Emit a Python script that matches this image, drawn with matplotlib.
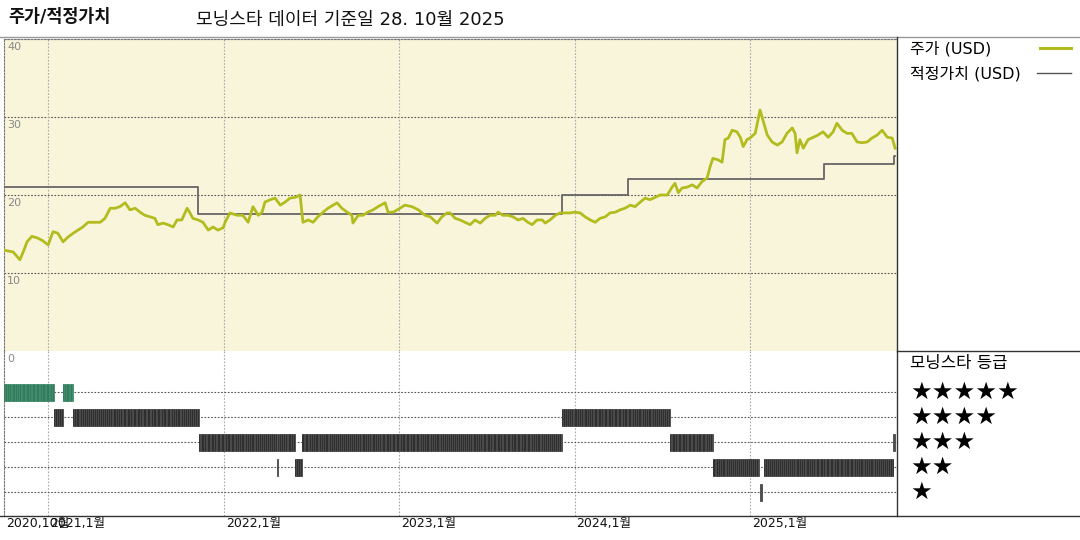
#!/usr/bin/env python3
# -*- coding: utf-8 -*-

"""
Price / fair value chart with star rating timeline (Morningstar style).
"""

import numpy as np
import pandas as pd
import matplotlib
matplotlib.use("Agg")
from matplotlib import pyplot as plt
from matplotlib.lines import Line2D
import matplotlib.dates as mdates

plt.rcParams['font.family'] = ['DejaVu Sans', 'Noto Sans CJK KR']

# DATA ########################################################################

START = pd.Timestamp("2020-10-01")
END = pd.Timestamp("2025-11-02")

# days since START
price_day = [2, 19, 33, 40, 48, 58, 69, 79, 92, 102, 112, 123, 133, 144, 154,
             164, 175, 189, 200, 210, 221, 231, 241, 252, 262, 273, 283, 293,
             304, 314, 320, 331, 341, 352, 360, 370, 381, 387, 393, 404, 414,
             425, 435, 445, 456, 460, 470, 485, 497, 508, 518, 529, 537, 543,
             554, 564, 575, 585, 595, 606, 616, 622, 633, 643, 653, 664, 674,
             685, 693, 703, 714, 724, 726, 737, 747, 757, 768, 778, 793, 799,
             810, 824, 834, 849, 862, 876, 887, 901, 911, 922, 928, 939, 949,
             959, 970, 980, 991, 1001, 1011, 1022, 1028, 1038, 1049, 1059,
             1070, 1080, 1090, 1099, 1109, 1120, 1126, 1136, 1147, 1157, 1167,
             1178, 1188, 1199, 1209, 1220, 1230, 1240, 1251, 1261, 1272, 1282,
             1292, 1303, 1313, 1324, 1334, 1344, 1355, 1365, 1380, 1390, 1396,
             1403, 1411, 1421, 1432, 1442, 1452, 1463, 1469, 1475, 1486, 1494,
             1500, 1507, 1515, 1525, 1532, 1538, 1546, 1552, 1563, 1573, 1579,
             1588, 1598, 1609, 1619, 1629, 1640, 1646, 1650, 1656, 1663, 1673,
             1684, 1694, 1704, 1715, 1725, 1733, 1744, 1754, 1764, 1775, 1785,
             1796, 1806, 1817, 1827, 1838, 1848, 1854]
price_usd = [12.9, 12.7, 11.7, 12.7, 14.0, 14.7, 14.5, 14.2, 13.6, 15.3, 15.1,
             14.0, 14.6, 15.1, 15.5, 15.9, 16.5, 16.5, 16.5, 17.0, 18.3, 18.3,
             18.5, 19.0, 18.1, 18.3, 17.8, 17.4, 17.2, 17.0, 16.2, 16.4, 16.2,
             15.9, 16.8, 16.8, 18.3, 17.7, 17.0, 16.8, 16.5, 15.5, 15.9, 15.5,
             15.8, 16.5, 17.7, 17.4, 17.4, 16.5, 18.5, 17.4, 17.8, 19.1, 19.4,
             19.6, 18.7, 19.1, 19.6, 19.7, 20.0, 16.5, 16.8, 16.5, 17.2, 17.8,
             18.3, 18.7, 19.0, 18.3, 17.8, 17.4, 16.4, 17.4, 17.4, 17.8, 18.1,
             18.5, 19.0, 17.8, 17.8, 18.3, 18.7, 18.5, 18.1, 17.4, 17.2, 16.4,
             17.2, 17.7, 17.7, 17.0, 16.8, 16.5, 16.2, 16.8, 16.4, 17.0, 17.4,
             17.4, 17.8, 17.4, 17.4, 17.2, 16.8, 17.0, 16.5, 16.2, 16.8, 16.8,
             16.4, 16.8, 17.4, 17.7, 17.7, 17.7, 17.8, 17.7, 17.2, 16.8, 16.5,
             17.0, 17.2, 17.7, 17.8, 18.1, 18.3, 18.7, 18.5, 19.1, 19.6, 19.4,
             19.7, 20.0, 20.0, 21.0, 21.5, 20.3, 20.9, 21.0, 21.3, 20.9, 21.7,
             22.2, 23.6, 24.7, 24.5, 24.2, 27.1, 27.3, 28.3, 28.1, 27.4, 26.2,
             27.1, 27.3, 27.9, 30.9, 29.6, 27.7, 26.8, 26.4, 26.8, 27.9, 28.6,
             27.9, 25.4, 27.1, 26.0, 27.1, 27.4, 27.7, 28.1, 27.4, 28.1, 29.2,
             28.3, 27.9, 27.9, 26.8, 26.7, 26.8, 27.3, 27.7, 28.3, 27.4, 27.3,
             26.0]

fair_day = [0, 404, 1161, 1299, 1706, 1851, 1854]
fair_usd = [21.0, 17.6, 20.0, 22.0, 24.0, 25.0, 25.0]

rating_from_day = [0, 104, 123, 144, 406, 567, 571, 606, 620, 1161, 1386,
                   1475, 1573, 1581, 1850]
rating_to_day = [104, 123, 144, 406, 567, 571, 606, 620, 1161, 1386, 1475,
                 1570, 1577, 1850, 1854]
rating_stars = [5, 4, 5, 4, 3, 2, 3, 2, 3, 4, 3, 2, 1, 2, 3]

tick_dates = ["2020-10-01", "2021-01-01", "2022-01-01", "2023-01-01",
              "2024-01-01", "2025-01-01"]
tick_labels = ["2020,10월", "2021,1월", "2022,1월", "2023,1월", "2024,1월",
               "2025,1월"]
price_ticks = [0, 10, 20, 30, 40]

# PLOT ########################################################################

W, H = 1080, 540
fig = plt.figure(figsize=(W / 100, H / 100), dpi=100)
fig.patch.set_facecolor("white")

def fx(px):
    return px / W

def fy(py):
    return 1 - py / H

left, right = 4, 897
ax1 = fig.add_axes([fx(left), fy(351), fx(right - left), fy(39) - fy(351)])
ax2 = fig.add_axes([fx(left), fy(516), fx(right - left), fy(351) - fy(516)],
                   sharex=ax1)
ax2.patch.set_visible(False)

dot = (0, (1.5, 1.5))

# price panel ##################

ax1.set_facecolor("#f9f5da")
price_dates = START + pd.to_timedelta(price_day, unit="D")
fair_dates = START + pd.to_timedelta(fair_day, unit="D")

for v in price_ticks[1:]:
    ax1.axhline(v, color="#555555", lw=0.8, linestyle=dot, zorder=1)
for d in tick_dates[1:]:
    ax1.axvline(pd.Timestamp(d), color="#aaaaaa", lw=0.8, linestyle=dot, zorder=1)
    ax2.axvline(pd.Timestamp(d), color="#aaaaaa", lw=0.8, linestyle=dot, zorder=1)

ax1.plot(fair_dates, fair_usd, drawstyle="steps-post", color="#666666",
         lw=1.3, zorder=3)
ax1.plot(price_dates, price_usd, color="#b3bc1f", lw=2.0, zorder=4)

ax1.set_ylim(0, 40)
ax1.set_xlim(START, END)
ax1.set_xticks([])
ax1.set_yticks([])
for side in ["top", "left"]:
    ax1.spines[side].set_linestyle(dot)
    ax1.spines[side].set_color("#777777")
    ax1.spines[side].set_linewidth(0.8)
ax1.spines["right"].set_visible(False)
ax1.spines["bottom"].set_visible(False)

for v in price_ticks:
    ax1.annotate(str(v), xy=(0, v), xycoords=("axes fraction", "data"),
                 xytext=(3, -3), textcoords="offset pixels",
                 ha="left", va="top", fontsize=8, color="#888888",
                 annotation_clip=False, zorder=6)

# rating panel #################

for s in range(1, 6):
    ax2.axhline(s, color="#555555", lw=0.8, linestyle=dot, zorder=1)

for d0, d1, s in zip(rating_from_day, rating_to_day, rating_stars):
    t0 = START + pd.Timedelta(days=d0)
    t1 = START + pd.Timedelta(days=d1)
    base = "#3f8d6c" if s == 5 else "#4a4a4a"
    dark = "#2a6e50" if s == 5 else "#1a1a1a"
    ax2.barh(s, mdates.date2num(t1) - mdates.date2num(t0),
             left=mdates.date2num(t0), height=0.68, color=base,
             edgecolor=base, lw=0.6, zorder=2)
    days = pd.bdate_range(t0, t1 - pd.Timedelta(days=1))
    if len(days) > 5:
        ax2.vlines(days[::3], s - 0.34, s + 0.34, colors=dark, lw=0.5,
                   alpha=0.8, zorder=3)

ax2.set_ylim(0.04, 6.64)
ax2.set_xlim(START, END)
ax2.set_xticks([])
ax2.set_yticks([])
ax2.spines["left"].set_linestyle(dot)
ax2.spines["left"].set_color("#777777")
ax2.spines["left"].set_linewidth(0.8)
for side in ["top", "right", "bottom"]:
    ax2.spines[side].set_visible(False)

for d, lab in zip(tick_dates, tick_labels):
    ax2.annotate(lab, xy=(pd.Timestamp(d), 0), xycoords=("data", "axes fraction"),
                 xytext=(2, -1), textcoords="offset pixels",
                 ha="left", va="top", fontsize=9, color="#111111",
                 annotation_clip=False)

# frame lines ##################

frame = [([0, 1], [fy(37), fy(37)], "#999999"),
         ([fx(right), fx(right)], [fy(37), fy(516)], "#333333"),
         ([fx(right), 1], [fy(351), fy(351)], "#333333"),
         ([0, 1], [fy(516), fy(516)], "#333333")]
for xs, ys, c in frame:
    fig.add_artist(Line2D(xs, ys, transform=fig.transFigure, color=c, lw=1.0))

# titles #######################

fig.text(fx(8), fy(17), "주가/적정가치", fontsize=12.5, fontweight="bold",
         ha="left", va="center", color="#111111")
fig.text(fx(196), fy(20), "모닝스타 데이터 기준일 28. 10월 2025", fontsize=13,
         ha="left", va="center", color="#111111")

# legend #######################

fig.text(fx(910), fy(49), "주가 (USD)", fontsize=11.5, ha="left", va="center")
fig.add_artist(Line2D([fx(1040), fx(1071)], [fy(48), fy(48)],
                      transform=fig.transFigure, color="#b3bc1f", lw=2.2))
fig.text(fx(910), fy(74), "적정가치 (USD)", fontsize=11.5, ha="left", va="center")
fig.add_artist(Line2D([fx(1037), fx(1071)], [fy(73), fy(73)],
                      transform=fig.transFigure, color="#555555", lw=1.0))

fig.text(fx(910), fy(363), "모닝스타 등급", fontsize=12, ha="left", va="center")
for s in range(5, 0, -1):
    fig.text(fx(910), fy(392 + (5 - s) * 25), "★" * s, fontsize=17.5,
             ha="left", va="center", color="black")

fig.savefig("out.png", dpi=100)
